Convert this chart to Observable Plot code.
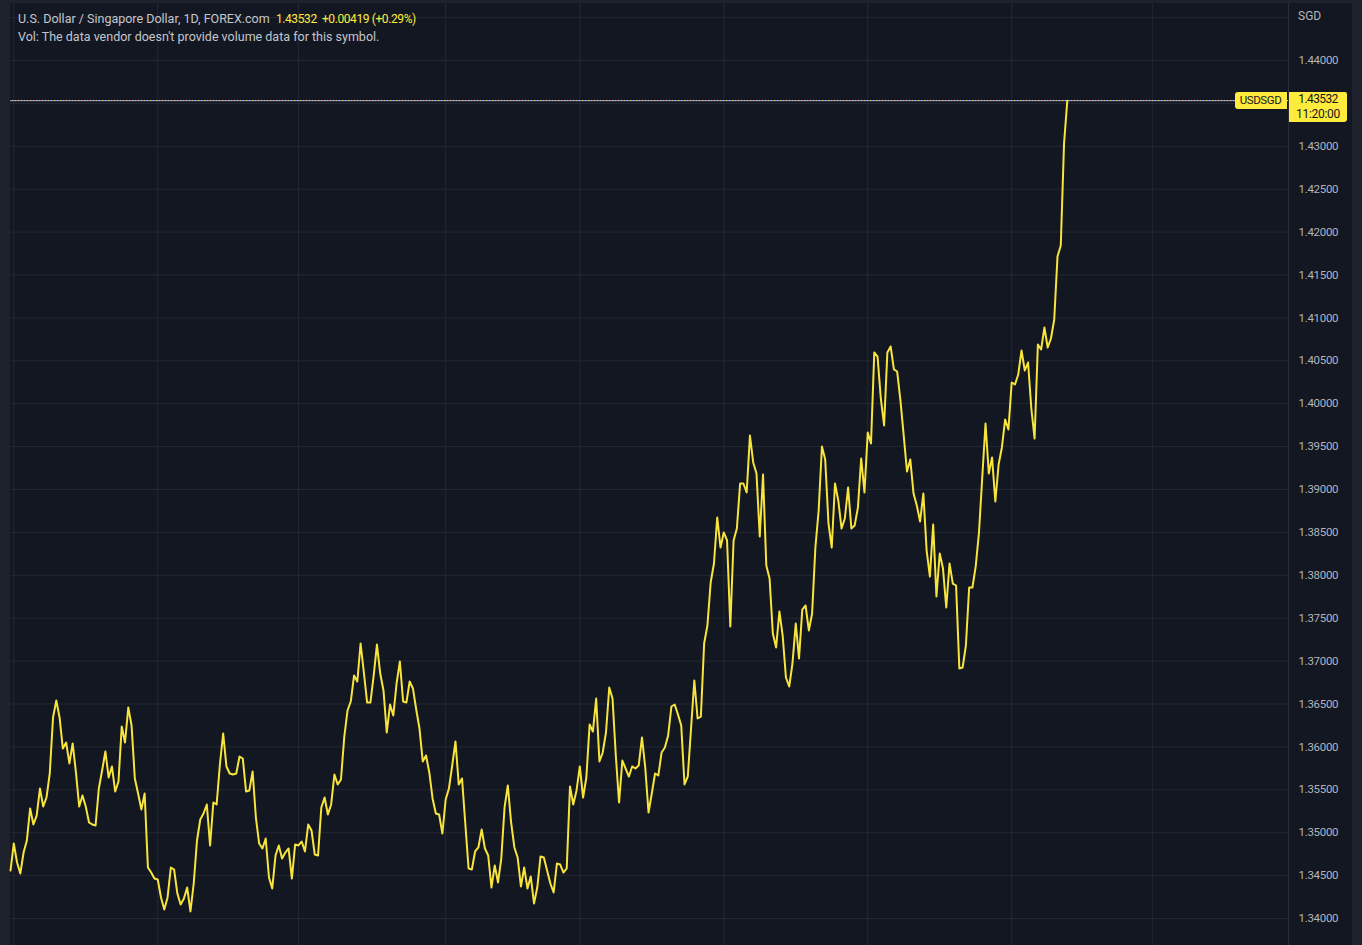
<!DOCTYPE html>
<html><head><meta charset="utf-8">
<script src="https://cdn.jsdelivr.net/npm/d3@7"></script>
<script src="https://cdn.jsdelivr.net/npm/@observablehq/plot@0.6"></script>
<style>
html,body{margin:0;padding:0;background:#1e222d;}
#wrap{position:relative;width:1362px;height:945px;overflow:hidden;background:#1e222d;font-family:Roboto,"Noto Sans",sans-serif;}
#pane{position:absolute;left:10px;top:3px;width:1342px;height:960px;background:#131722;}
#sep{position:absolute;left:1288px;top:3px;width:1px;height:960px;background:#2a2e39;}
#chart{position:absolute;left:0;top:0;}
#legend{position:absolute;left:18px;top:10px;font-size:12.5px;color:#c3c6ce;line-height:17px;white-space:pre;}
#legend .val{color:#ffeb3b;font-size:12px;letter-spacing:-0.4px;}
.unit{position:absolute;left:1298px;top:9px;font-size:12px;color:#b2b5be;}
.symbox{position:absolute;background:#ffeb3b;color:#131722;font-size:11.5px;letter-spacing:-0.4px;line-height:17px;height:17px;width:52px;text-align:center;border-radius:3px 0 0 3px;}
.pricebox{position:absolute;background:#ffeb3b;color:#131722;font-size:12px;line-height:15px;height:30px;width:58px;text-align:center;border-radius:0 2px 3px 0;}
.pricebox .p{letter-spacing:-0.6px;}
.pricebox .t{letter-spacing:-0.3px;}
</style></head>
<body>
<div id="wrap">
  <div id="pane"></div>
  <div id="sep"></div>
  <div id="chart"></div>
  <div id="legend"></div>
</div>
<script>
// ---- data ----
const symbolTitle = "U.S. Dollar / Singapore Dollar, 1D, FOREX.com";
const lastText = "1.43532";
const changeText = "+0.00419 (+0.29%)";
const volText = "Vol: The data vendor doesn't provide volume data for this symbol.";
const symbolCode = "USDSGD";
const currency = "SGD";
const countdown = "11:20:00";

// daily closes (bar index 0 = first trading day shown)
const closes = [
1.34559,1.34874,1.34653,1.34524,1.34769,1.34909,1.35282,1.35096,1.35200,1.35515,
1.35305,1.35410,1.35690,1.36343,1.36541,1.36343,1.35981,1.36051,1.35807,1.36040,
1.35702,1.35305,1.35434,1.35305,1.35119,1.35096,1.35084,1.35515,1.35725,1.35946,
1.35643,1.35772,1.35480,1.35597,1.36238,1.36051,1.36459,1.36249,1.35632,1.35457,
1.35270,1.35457,1.34594,1.34536,1.34466,1.34455,1.34245,1.34105,1.34245,1.34594,
1.34571,1.34291,1.34163,1.34233,1.34361,1.34082,1.34408,1.34909,1.35154,1.35224,
1.35329,1.34851,1.35352,1.35329,1.35795,1.36156,1.35772,1.35690,1.35678,1.35690,
1.35888,1.35865,1.35480,1.35492,1.35713,1.35177,1.34874,1.34816,1.34932,1.34478,
1.34350,1.34734,1.34851,1.34699,1.34769,1.34816,1.34466,1.34863,1.34851,1.34897,
1.34781,1.35096,1.35026,1.34746,1.34734,1.35294,1.35410,1.35212,1.35329,1.35678,
1.35562,1.35620,1.36110,1.36424,1.36529,1.36832,1.36762,1.37205,1.36867,1.36517,
1.36517,1.36832,1.37193,1.36855,1.36657,1.36168,1.36494,1.36366,1.36739,1.36995,
1.36529,1.36517,1.36762,1.36681,1.36436,1.36214,1.35830,1.35900,1.35702,1.35399,
1.35224,1.35212,1.34991,1.35387,1.35515,1.35783,1.36063,1.35562,1.35632,1.35107,
1.34583,1.34571,1.34781,1.34828,1.35037,1.34816,1.34734,1.34361,1.34618,1.34420,
1.34699,1.35294,1.35550,1.35119,1.34828,1.34711,1.34373,1.34594,1.34350,1.34490,
1.34175,1.34361,1.34723,1.34711,1.34559,1.34408,1.34303,1.34641,1.34629,1.34536,
1.34583,1.35538,1.35329,1.35492,1.35772,1.35410,1.35643,1.36261,1.36179,1.36564,
1.35830,1.35935,1.36168,1.36692,1.36564,1.35900,1.35352,1.35841,1.35748,1.35655,
1.35772,1.35748,1.35783,1.36110,1.35760,1.35235,1.35457,1.35690,1.35667,1.35935,
1.35993,1.36133,1.36471,1.36494,1.36378,1.36249,1.35562,1.35655,1.36214,1.36774,
1.36331,1.36354,1.37205,1.37415,1.37916,1.38138,1.38674,1.38324,1.38499,1.38406,
1.37403,1.38406,1.38545,1.39070,1.39070,1.38965,1.39629,1.39315,1.39186,1.38452,
1.39175,1.38114,1.37963,1.37322,1.37159,1.37578,1.37298,1.36809,1.36704,1.36972,
1.37438,1.37030,1.37601,1.37648,1.37357,1.37555,1.38324,1.38755,1.39501,1.39350,
1.38604,1.38324,1.39070,1.38872,1.38545,1.38662,1.39023,1.38545,1.38580,1.38790,
1.39361,1.38965,1.39664,1.39536,1.40597,1.40550,1.40061,1.39746,1.40597,1.40667,
1.40399,1.40375,1.40037,1.39629,1.39210,1.39350,1.38953,1.38814,1.38627,1.38953,
1.38289,1.37986,1.38592,1.37753,1.38254,1.38079,1.37625,1.38138,1.37904,1.37881,
1.36914,1.36925,1.37182,1.37858,1.37858,1.38103,1.38499,1.39140,1.39769,1.39186,
1.39373,1.38860,1.39291,1.39490,1.39816,1.39699,1.40247,1.40224,1.40340,1.40620,
1.40387,1.40480,1.39944,1.39594,1.40690,1.40632,1.40888,1.40655,1.40760,1.40981,
1.41716,1.41844,1.43033,1.43532
];
// bar indices where a new (bi-monthly) time-axis division starts
const monthStarts = [1, 45, 88, 133, 174, 218, 262, 306, 349];
const monthLabels = ["Jul", "Sep", "Nov", "2022", "Mar", "May", "Jul", "Sep", "Nov"];
// price axis ticks (1.435 label is hidden under the last-price box)
const priceTicks = [1.340,1.345,1.350,1.355,1.360,1.365,1.370,1.375,1.380,1.385,1.390,1.395,1.400,1.405,1.410,1.415,1.420,1.425,1.430,1.440];
const priceGrid = [...priceTicks, 1.435, 1.445];
const visibleBars = 390.6;

// ---- chart ----
const lastClose = closes[closes.length - 1];
const rows = closes.map((c, i) => ({bar: i, close: c}));

const plot = Plot.plot({
  width: 1362, height: 945,
  marginLeft: 10, marginRight: 74, marginTop: 3, marginBottom: 0,
  style: {background: "transparent", fontFamily: "Roboto, 'Noto Sans', sans-serif", fontSize: "12px", overflow: "visible"},
  x: {domain: [0, visibleBars], axis: null},
  y: {domain: [1.34, 1.44], range: [918, 60], axis: null},
  marks: [
    Plot.gridY(priceGrid, {stroke: "#2a2e39", strokeOpacity: 0.75}),
    Plot.ruleX(monthStarts, {stroke: "#2a2e39", strokeOpacity: 0.75}),
    Plot.ruleY([lastClose], {stroke: "#f09a9a", strokeDasharray: "1,2", strokeDashoffset: 0}),
    Plot.ruleY([lastClose], {stroke: "#f3eaa0", strokeDasharray: "1,2", strokeDashoffset: 1}),
    Plot.ruleY([lastClose], {stroke: "#6aa8f0", strokeDasharray: "1,2", strokeDashoffset: 2}),
    Plot.line(rows, {x: "bar", y: "close", stroke: "#f7e43c", strokeWidth: 2}),
    Plot.axisY(priceTicks, {anchor: "right", tickSize: 0, tickPadding: 10, label: null,
      tickFormat: d3.format(".5f"), fill: "#b2b5be", fontSize: 11.5, textAnchor: "start"})
  ]
});
plot.querySelectorAll("g[aria-label='y-axis tick label'] text, g[aria-label='y-axis tick label']").forEach(n => n.style.letterSpacing = "-0.3px");
document.getElementById("chart").appendChild(plot);

// legend
const lg = document.getElementById("legend");
lg.innerHTML = `${symbolTitle}  <span class="val">${lastText}  ${changeText}</span>\n${volText}`;

// overlays positioned through the plot's own scales
const ys = plot.scale("y");
const yLast = ys.apply(lastClose);
const wrap = document.getElementById("wrap");
const unit = document.createElement("div");
unit.className = "unit"; unit.textContent = currency; wrap.appendChild(unit);
const sym = document.createElement("div");
sym.className = "symbox"; sym.textContent = symbolCode;
sym.style.top = (yLast - 8.3) + "px"; sym.style.left = "1234.5px";
wrap.appendChild(sym);
const pb = document.createElement("div");
pb.className = "pricebox"; pb.innerHTML = `<span class="p">${lastText}</span><br><span class="t">${countdown}</span>`;
pb.style.top = (yLast - 8.3) + "px"; pb.style.left = "1289px";
wrap.appendChild(pb);
</script>
</body></html>
